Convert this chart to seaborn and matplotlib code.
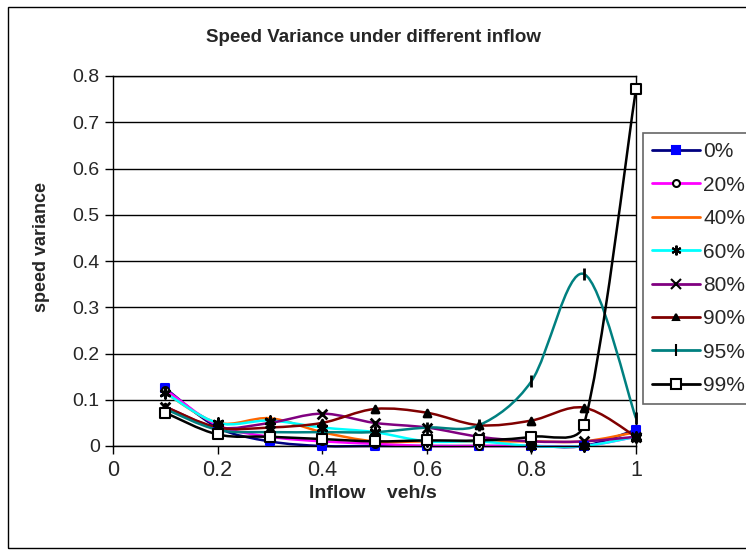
import numpy as np
import matplotlib.pyplot as plt
import seaborn as sns
from matplotlib.path import Path
from matplotlib.patches import PathPatch, Rectangle
from matplotlib.lines import Line2D

# datos
inflow = [0.1, 0.2, 0.3, 0.4, 0.5, 0.6, 0.7, 0.8, 0.9, 1.0]
v0 = [0.125, 0.04, 0.01, 0.0, 0.0, 0.0, 0.0, 0.0, 0.0, 0.035]
v20 = [0.122, 0.045, 0.02, 0.01, 0.005, 0.0, 0.0, 0.0, 0.0, 0.02]
v40 = [0.115, 0.05, 0.06, 0.03, 0.01, 0.01, 0.01, 0.01, 0.01, 0.03]
v60 = [0.115, 0.05, 0.055, 0.04, 0.03, 0.01, 0.01, 0.0, 0.0, 0.02]
v80 = [0.085, 0.04, 0.05, 0.07, 0.05, 0.04, 0.02, 0.01, 0.01, 0.02]
v90 = [0.085, 0.04, 0.04, 0.05, 0.08, 0.072, 0.045, 0.055, 0.083, 0.02]
v95 = [0.08, 0.035, 0.03, 0.03, 0.03, 0.04, 0.045, 0.14, 0.372, 0.06]
v99 = [0.072, 0.025, 0.02, 0.015, 0.01, 0.012, 0.012, 0.02, 0.045, 0.772]
series = [v0, v20, v40, v60, v80, v90, v95, v99]
labels = ['0%', '20%', '40%', '60%', '80%', '90%', '95%', '99%']
xticks = [0, 0.2, 0.4, 0.6, 0.8, 1.0]
xticklabels = ['0', '0.2', '0.4', '0.6', '0.8', '1']
yticks = [0, 0.1, 0.2, 0.3, 0.4, 0.5, 0.6, 0.7, 0.8]
yticklabels = ['0', '0.1', '0.2', '0.3', '0.4', '0.5', '0.6', '0.7', '0.8']

# estilo de cada serie (color linea, marcador, relleno, tamaño)
colors = ['#000080', '#FF00FF', '#FF6600', '#00FFFF', '#800080', '#800000', '#008080', '#000000']
markers = ['s', 'o', None, (6, 2, 0), 'x', '^', '|', 's']
faces = ['#0000FF', 'white', 'none', 'black', 'black', 'black', 'black', 'white']
edges = ['#0000FF', 'black', 'none', 'black', 'black', 'black', 'black', 'black']
msizes = [6, 5, 0, 7, 7, 5, 8, 7]

sns.set_style('white')
plt.rcParams['font.family'] = ['Liberation Sans', 'DejaVu Sans']

# pixeles por unidad (para suavizar en espacio de pantalla)
SX, SY = 523.0, 370.0 / 0.8


def curva_suave(x, y, limite=0.4):
    # curva tipo Excel: Bezier Catmull-Rom, con control limitado al tramo
    p = np.column_stack([np.asarray(x) * SX, np.asarray(y) * SY])
    n = len(p)
    tang = [(p[min(i + 1, n - 1)] - p[max(i - 1, 0)]) / 6 for i in range(n)]
    verts = [p[0]]
    codes = [Path.MOVETO]
    for i in range(n - 1):
        seg = np.hypot(*(p[i + 1] - p[i]))
        t1, t2 = tang[i], tang[i + 1]
        l1, l2 = np.hypot(*t1), np.hypot(*t2)
        if l1 > limite * seg:
            t1 = t1 * limite * seg / l1
        if l2 > limite * seg:
            t2 = t2 * limite * seg / l2
        verts += [p[i] + t1, p[i + 1] - t2, p[i + 1]]
        codes += [Path.CURVE4] * 3
    verts = np.array(verts) / [SX, SY]
    return Path(verts, codes)


fig = plt.figure(figsize=(7.46, 5.55), dpi=100)
ax = fig.add_axes([113 / 746, 1 - 446 / 555, 523 / 746, 370 / 555])

for vals, c in zip(series, colors):
    ax.add_patch(PathPatch(curva_suave(inflow, vals), facecolor='none',
                           edgecolor=c, lw=1.8, clip_on=False, zorder=2))
for vals, m, fc, ec, ms in zip(series, markers, faces, edges, msizes):
    if m is None:
        continue
    sns.scatterplot(x=inflow, y=vals, marker=m, s=ms ** 2, color=fc,
                    edgecolor=ec, linewidth=1.5 if m in ('s', 'o') else 2,
                    ax=ax, clip_on=False, zorder=3, legend=False)

ax.set_xlim(0, 1)
ax.set_ylim(0, 0.8)
ax.set_xticks(xticks)
ax.set_xticklabels(xticklabels, fontsize=15.5)
ax.set_yticks(yticks)
ax.set_yticklabels(yticklabels, fontsize=14)
ax.tick_params(direction='out', length=6, width=1, color='black', left=True, bottom=True)
ax.tick_params(axis='x', pad=4)
ax.yaxis.grid(True, color='black', lw=1)
ax.xaxis.grid(False)
for s in ax.spines.values():
    s.set_color('black')
    s.set_linewidth(1)
ax.set_xlabel('')
ax.set_ylabel('')

fig.text(0.5, 1 - 38 / 555, 'Speed Variance under different inflow',
         ha='center', va='center', fontsize=13.5, fontweight='bold')
fig.text(373 / 746, 1 - 493 / 555, 'Inflow    veh/s',
         ha='center', va='center', fontsize=14, fontweight='bold')
fig.text(42 / 746, 1 - 247 / 555, 'speed variance', rotation=90,
         ha='center', va='center', fontsize=13, fontweight='bold')

handles = []
for c, m, fc, ec, ms in zip(colors, markers, faces, edges, msizes):
    handles.append(Line2D([], [], color=c, lw=2, marker=m, markersize=ms,
                          markerfacecolor=fc, markeredgecolor=ec, markeredgewidth=1.5))
leg = fig.legend(handles, labels, loc='upper left',
                 bbox_to_anchor=(643 / 746, 1 - 133 / 555), fontsize=15,
                 frameon=True, fancybox=False, edgecolor='#404040',
                 handlelength=2.3, handletextpad=0.15, labelspacing=0.69,
                 borderpad=0.45, borderaxespad=0)
leg.get_frame().set_linewidth(1.2)

# borde del area del grafico
fig.patches.append(Rectangle((8 / 746, 7 / 555), 1.0, 1 - 14 / 555,
                             transform=fig.transFigure, fill=False,
                             edgecolor='black', lw=1))

fig.savefig('out.png', dpi=100)
